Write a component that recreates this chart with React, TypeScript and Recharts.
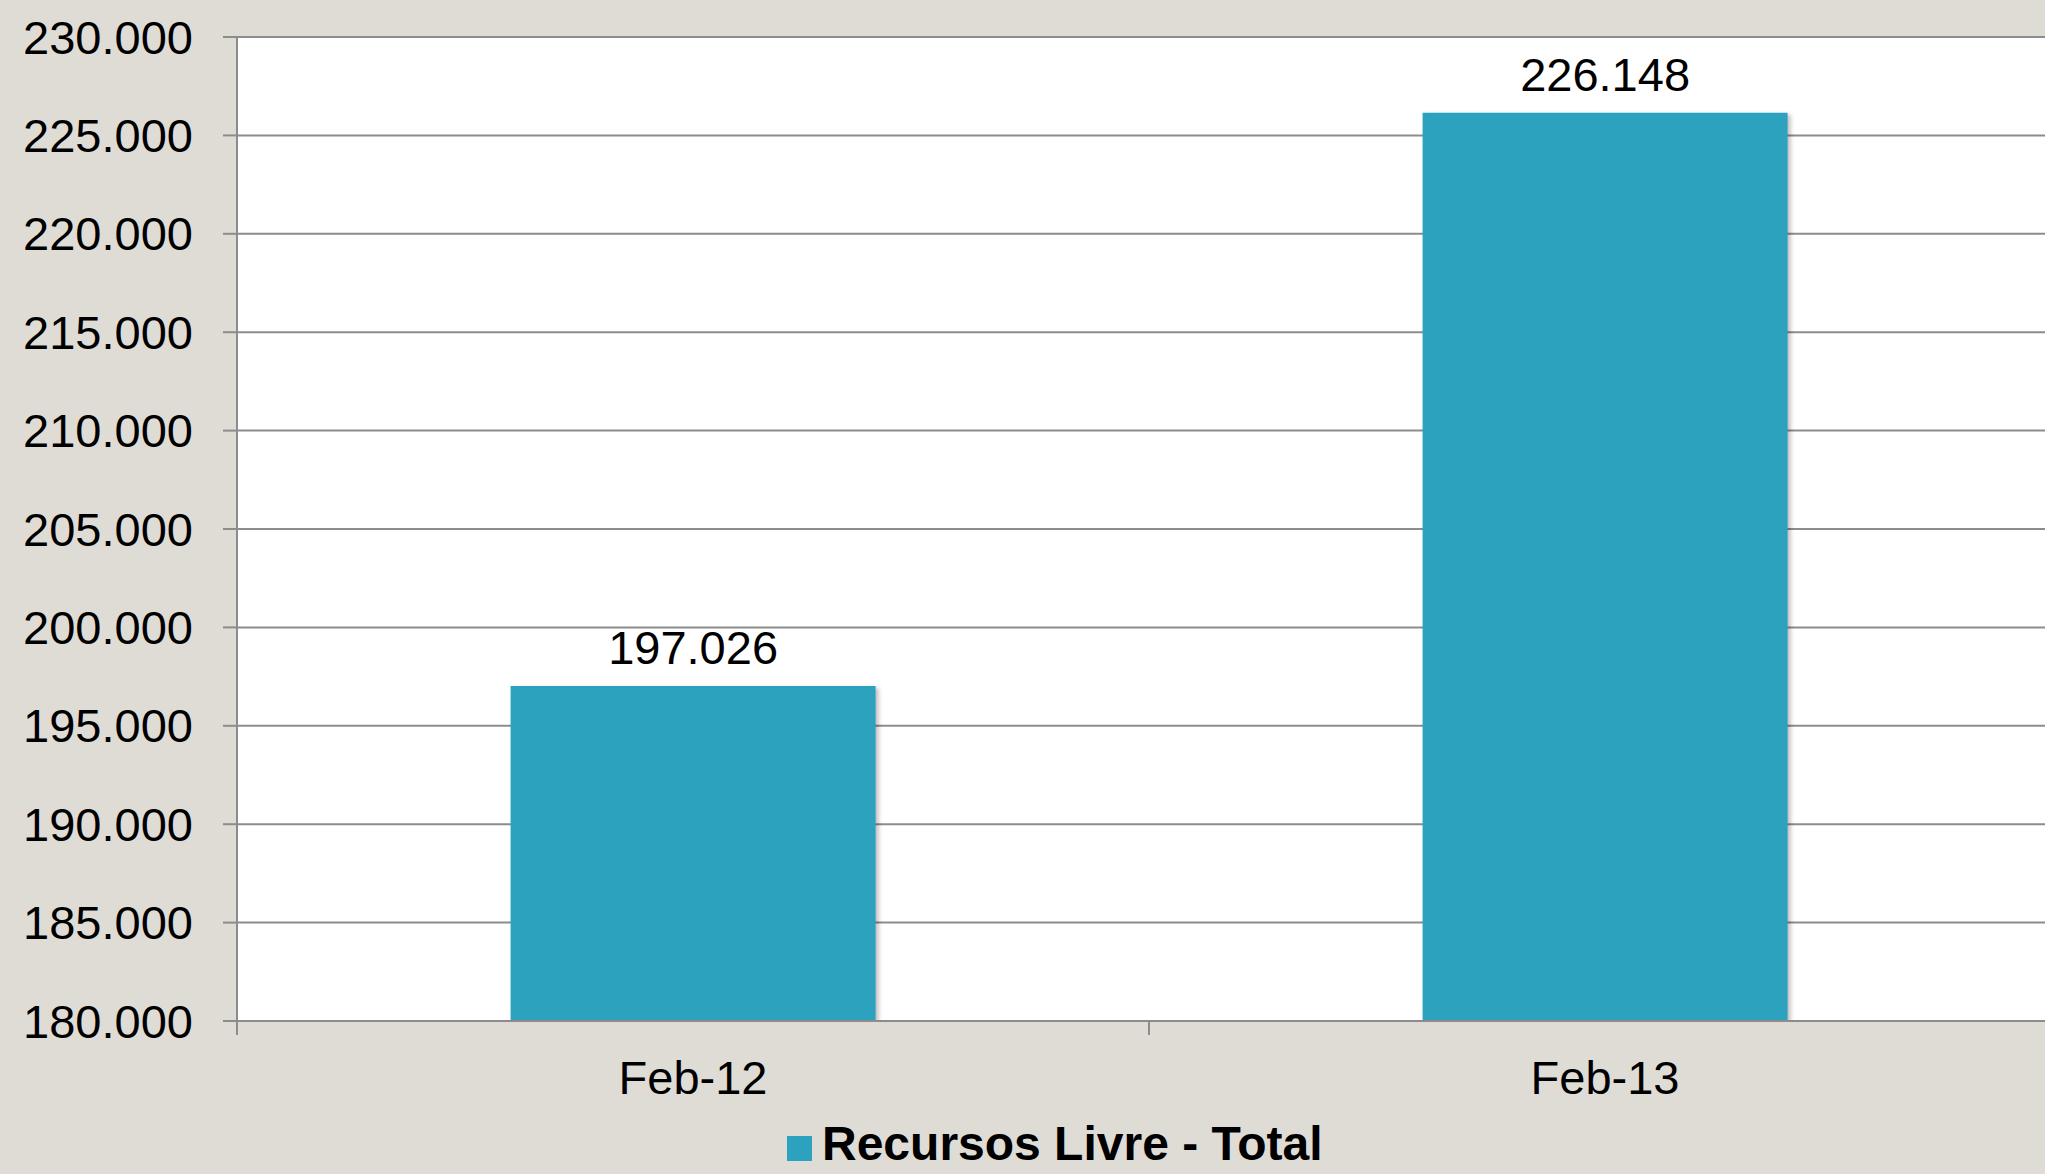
import React from "react";
import {
  BarChart,
  Bar,
  XAxis,
  YAxis,
  CartesianGrid,
  Legend,
  LabelList,
  Rectangle,
} from "recharts";

const categories = ["Feb-12", "Feb-13"];
const recursosLivreTotal = [197026, 226148];
const yTicks = [180000, 185000, 190000, 195000, 200000, 205000, 210000, 215000, 220000, 225000, 230000];
const seriesName = "Recursos Livre - Total";

const data = categories.map((c, i) => ({ name: c, value: recursosLivreTotal[i] }));

const BAR_COLOR = "#2ca2bf";
const GRID = "#8c8c8c";
const FONT = "'Liberation Sans', Arial, sans-serif";

const CHART_W = 2061;
const CHART_H = 1174;
const Y_W = 237;
const HALF_BAND = (CHART_W - Y_W) / categories.length / 2;

// 230000 -> "230.000"
const fmt = (v: number) => {
  const t = Math.floor(v / 1000);
  const r = Math.round(v % 1000);
  return `${t}.${String(r).padStart(3, "0")}`;
};

const XTick = ({ x, y, payload }: any) => (
  <g>
    <line x1={x - HALF_BAND} x2={x - HALF_BAND} y1={y} y2={y + 14} stroke={GRID} strokeWidth={2} />
    <text x={x} y={y + 73} textAnchor="middle" fontSize={47} fontFamily={FONT} fill="#000">
      {payload.value}
    </text>
  </g>
);

const ShadowBar = (props: any) => (
  <Rectangle {...props} style={{ filter: "drop-shadow(3px 2px 2px rgba(0,0,0,0.25))" }} />
);

const LegendContent = () => (
  <div
    style={{
      display: "flex",
      alignItems: "flex-start",
      height: 40,
      lineHeight: "40px",
      fontFamily: FONT,
      fontWeight: "bold",
      fontSize: 48,
      color: "#000",
      whiteSpace: "nowrap",
    }}
  >
    <span style={{ width: 25, height: 25, marginTop: 12, marginRight: 10, background: BAR_COLOR }} />
    <span>{seriesName}</span>
  </div>
);

export default function App() {
  return (
    <div
      style={{
        position: "fixed",
        top: 0,
        left: 0,
        width: 2045,
        height: 1174,
        overflow: "hidden",
        background: "#dfdcd6",
      }}
    >
      <BarChart
        width={CHART_W}
        height={CHART_H}
        data={data}
        margin={{ top: 37, right: 0, left: 0, bottom: 10 }}
        barCategoryGap="30%"
      >
        <CartesianGrid
          vertical={false}
          stroke={GRID}
          strokeWidth={2}
          fill="#ffffff"
          fillOpacity={1}
        />
        <XAxis
          dataKey="name"
          height={103}
          tickLine={false}
          tickSize={0}
          tickMargin={0}
          axisLine={{ stroke: GRID, strokeWidth: 2 }}
          tick={<XTick />}
          interval={0}
        />
        <YAxis
          width={Y_W}
          domain={[180000, 230000]}
          ticks={yTicks}
          tickFormatter={fmt}
          tickSize={14}
          tickMargin={30}
          tickLine={{ stroke: GRID, strokeWidth: 2 }}
          axisLine={{ stroke: GRID, strokeWidth: 2 }}
          tick={{ fontSize: 47, fontFamily: FONT, fill: "#000" }}
          allowDataOverflow
        />
        <Legend
          verticalAlign="bottom"
          content={<LegendContent />}
          wrapperStyle={{ left: 787, width: "auto" }}
        />
        <Bar
          dataKey="value"
          name={seriesName}
          fill={BAR_COLOR}
          isAnimationActive={false}
          shape={<ShadowBar />}
        >
          <LabelList
            dataKey="value"
            position="top"
            offset={22}
            formatter={(v: any) => fmt(Number(v))}
            style={{ fontSize: 47, fontFamily: FONT, fill: "#000" }}
          />
        </Bar>
      </BarChart>
    </div>
  );
}
